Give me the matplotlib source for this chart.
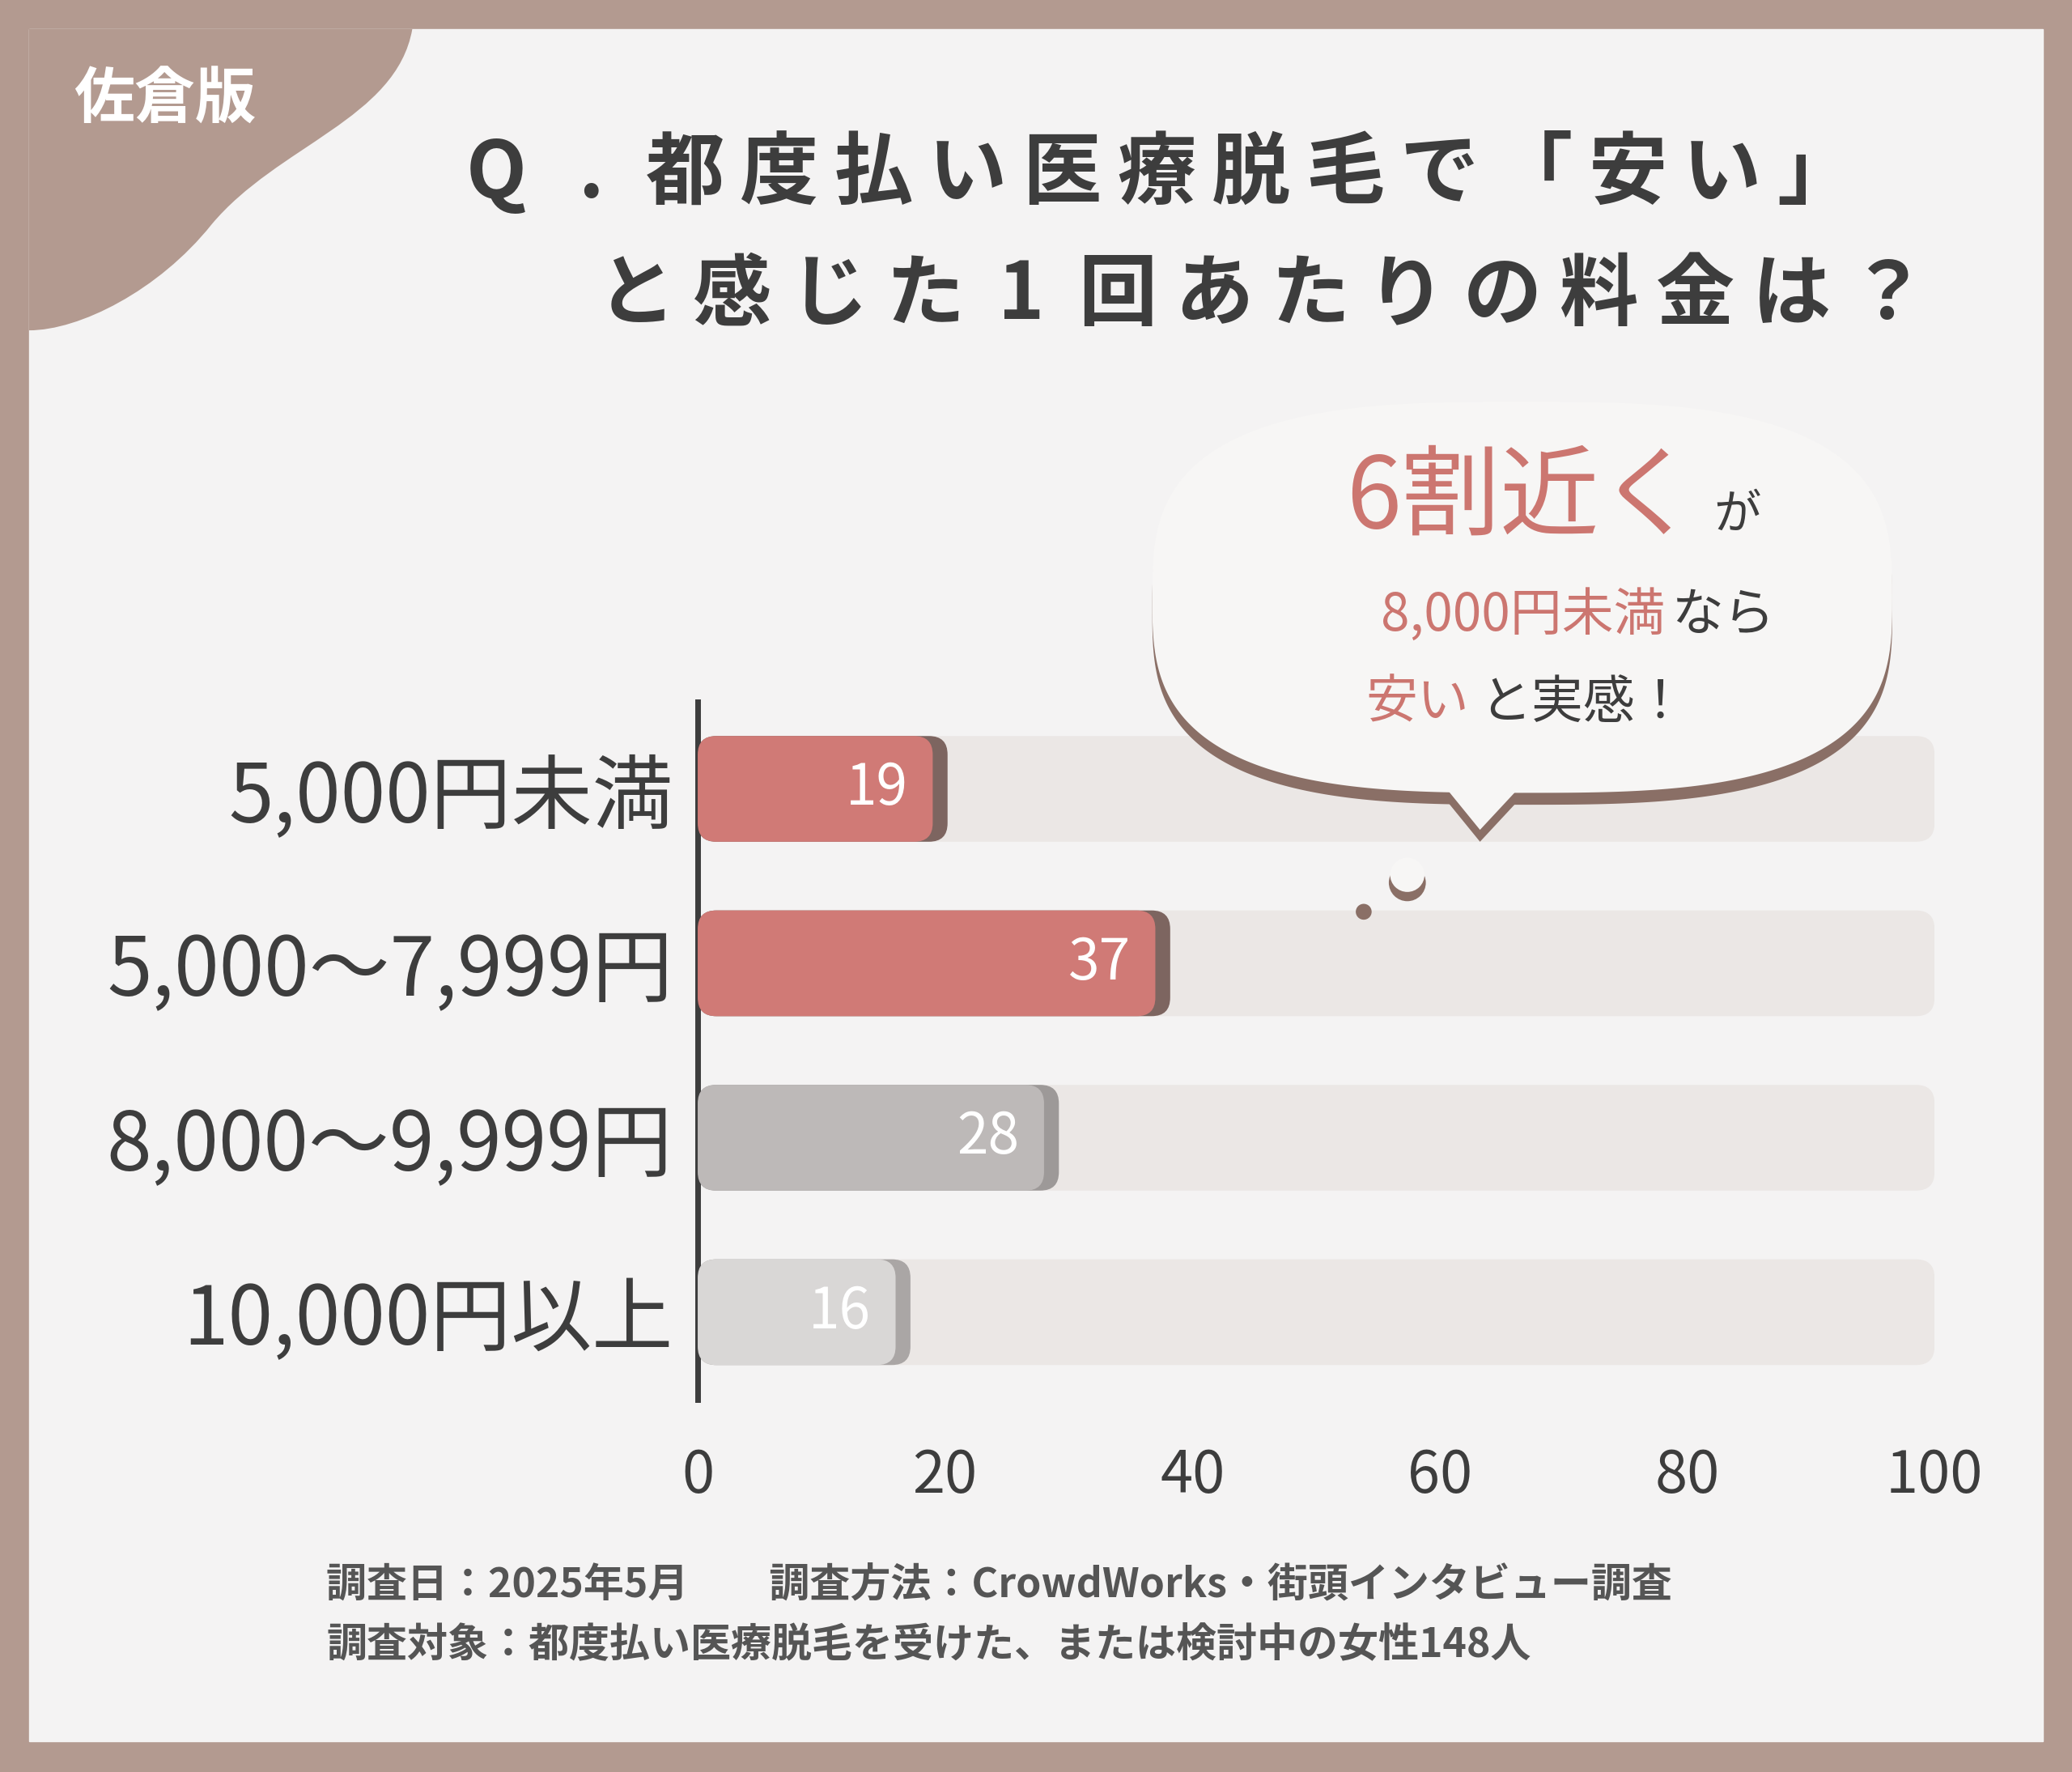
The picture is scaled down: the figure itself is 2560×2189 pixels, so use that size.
import matplotlib
matplotlib.use("Agg")
import numpy as np
import matplotlib.pyplot as plt
from matplotlib.patches import FancyBboxPatch, Polygon, PathPatch, Circle, Rectangle
from matplotlib.path import Path

plt.rcParams["font.family"] = ["Noto Sans CJK JP", "DejaVu Sans"]

categories = ["5,000円未満", "5,000〜7,999円", "8,000〜9,999円", "10,000円以上"]
values = [19, 37, 28, 16]
xticks = [0, 20, 40, 60, 80, 100]
title1 = "Q.都度払い医療脱毛で「安い」"
title2 = "と感じた1回あたりの料金は？"

bar_colors = ["#d07a76", "#d07a76", "#bdb9b8", "#d9d7d6"]
shadow_colors = ["#7d6560", "#7d6560", "#9d9998", "#aaa6a5"]
BROWN = "#b39a90"
DARK = "#3d3d3d"
RED = "#cc7670"

W, H = 1568, 1341
fig = plt.figure(figsize=(25.6, 21.89), dpi=100)
fig.patch.set_facecolor(BROWN)

bg = fig.add_axes([0, 0, 1, 1], zorder=0)
bg.set_xlim(0, W); bg.set_ylim(H, 0); bg.axis("off")
bg.add_patch(Rectangle((22, 22), 1524, 1296, color="#f4f3f3"))
verts = [(22, 22), (312, 22), (300, 90), (210, 110), (160, 170),
         (120, 220), (60, 250), (22, 250), (22, 22)]
codes = [Path.MOVETO, Path.LINETO, Path.CURVE4, Path.CURVE4, Path.CURVE4,
         Path.CURVE4, Path.CURVE4, Path.CURVE4, Path.CLOSEPOLY]
bg.add_patch(PathPatch(Path(verts, codes), color=BROWN, lw=0))
bg.text(125, 76, "佐倉版", color="white", fontsize=54, fontweight="bold", ha="center", va="center")

def spaced(text, x0, x1, y):
    step = (x1 - x0) / len(text)
    for k, ch in enumerate(text):
        bg.text(x0 + step * (k + 0.5), y, ch, color=DARK, fontsize=70,
                fontweight="bold", ha="center", va="center")

spaced(title1, 340, 1410, 132)
spaced(title2, 445, 1465, 224)
bg.text(247, 1200, "調査日：2025年5月　　調査方法：CrowdWorks・街頭インタビュー調査", color="#555", fontsize=36, fontweight="bold", ha="left", va="center")
bg.text(247, 1245, "調査対象：都度払い医療脱毛を受けた、または検討中の女性148人", color="#555", fontsize=36, fontweight="bold", ha="left", va="center")

# chart axes
left = 528 / W; right = 1464 / W
top = 531 / H; bottom = 1059 / H
ax = fig.add_axes([left, 1 - bottom, right - left, bottom - top], zorder=1)
ax.set_xlim(0, 100); ax.set_ylim(3.5, -0.5)
ax.patch.set_alpha(0)
for s in ["top", "right", "bottom"]:
    ax.spines[s].set_visible(False)
ax.spines["left"].set_linewidth(5); ax.spines["left"].set_color(DARK)
ax.set_yticks(range(len(categories)))
ax.set_yticklabels(categories, fontsize=72, color=DARK)
ax.tick_params(axis="y", length=0, pad=22)
ax.set_xticks(xticks)
ax.set_xticklabels([str(t) for t in xticks], fontsize=52, color=DARK)
ax.tick_params(axis="x", length=0, pad=42)

h = 80 / 132
ma = (14 / 132) / 1.5
for i, (v, c, sc) in enumerate(zip(values, bar_colors, shadow_colors)):
    ax.add_patch(FancyBboxPatch((0, i - h / 2), 100, h, boxstyle="round,pad=0,rounding_size=1.5",
                                mutation_aspect=ma, fc="#ebe7e5", ec="none", zorder=1))
    ax.add_patch(FancyBboxPatch((0, i - h / 2), v + 1.2, h, boxstyle="round,pad=0,rounding_size=1.5",
                                mutation_aspect=ma, fc=sc, ec="none", zorder=2))
    ax.add_patch(FancyBboxPatch((0, i - h / 2), v, h, boxstyle="round,pad=0,rounding_size=1.5",
                                mutation_aspect=ma, fc=c, ec="none", zorder=3))
    ax.text(v - 2, i, str(v), color="white", fontsize=50, ha="right", va="center", zorder=4)

# bubble overlay
ov = fig.add_axes([0, 0, 1, 1], zorder=2)
ov.set_xlim(0, W); ov.set_ylim(H, 0); ov.axis("off")
t = np.linspace(0, 2 * np.pi, 400)
n = 3.0
cx, cy, a, b = 1152, 452, 280, 148
ex = cx + a * np.sign(np.cos(t)) * np.abs(np.cos(t)) ** (2 / n)
ey = cy + b * np.sign(np.sin(t)) * np.abs(np.sin(t)) ** (2 / n)
for dy, col in [(9, "#8a6f66"), (0, "#f7f6f5")]:
    ov.add_patch(Polygon(np.column_stack([ex, ey + dy]), fc=col, ec="none"))
    ov.add_patch(Polygon([(1085, 585 + dy), (1160, 585 + dy), (1120, 628 + dy)], fc=col, ec="none"))
ov.add_patch(Circle((1065, 668), 14, fc="#8a6f66", ec="none"))
ov.add_patch(Circle((1065, 662), 13, fc="#f7f6f5", ec="none"))
ov.add_patch(Circle((1032, 690), 6, fc="#8a6f66", ec="none"))
ov.text(1285, 378, "6割近く", color=RED, fontsize=88, ha="right", va="center")
ov.text(1297, 390, "が", color=DARK, fontsize=42, ha="left", va="center")
ov.text(1260, 466, "8,000円未満", color=RED, fontsize=46, ha="right", va="center")
ov.text(1265, 466, "なら", color=DARK, fontsize=46, ha="left", va="center")
ov.text(1112, 532, "安い", color=RED, fontsize=46, ha="right", va="center")
ov.text(1120, 532, "と実感！", color=DARK, fontsize=46, ha="left", va="center")

fig.savefig("out.png", dpi=100, facecolor=fig.get_facecolor())
